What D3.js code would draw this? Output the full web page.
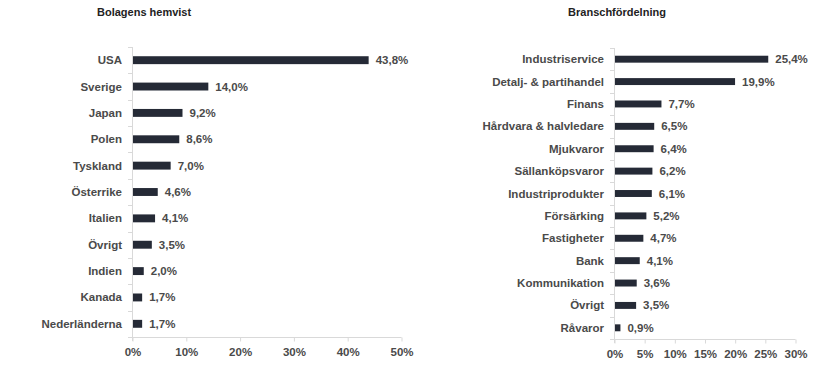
<!DOCTYPE html>
<html><head><meta charset="utf-8">
<script src="https://cdn.jsdelivr.net/npm/d3@7"></script>
<style>
body{margin:0;background:#fff;}
text{font-family:"Liberation Sans",Arial,sans-serif;font-weight:bold;}
</style></head>
<body>
<svg id="c" width="830" height="365"></svg>
<script>
const leftTitle = "Bolagens hemvist";
const leftCategories = ["USA","Sverige","Japan","Polen","Tyskland","Österrike","Italien","Övrigt","Indien","Kanada","Nederländerna"];
const leftValues = [43.8,14.0,9.2,8.6,7.0,4.6,4.1,3.5,2.0,1.7,1.7];
const leftTicks = [0,10,20,30,40,50];

const rightTitle = "Branschfördelning";
const rightCategories = ["Industriservice","Detalj- & partihandel","Finans","Hårdvara & halvledare","Mjukvaror","Sällanköpsvaror","Industriprodukter","Försärking","Fastigheter","Bank","Kommunikation","Övrigt","Råvaror"];
const rightValues = [25.4,19.9,7.7,6.5,6.4,6.2,6.1,5.2,4.7,4.1,3.6,3.5,0.9];
const rightTicks = [0,5,10,15,20,25,30];

const svg = d3.select("#c");
const fmt = v => v.toFixed(1).replace(".", ",") + "%";
const barColor = "#252a36", textColor = "#4a4a4a", axisColor = "#d9d9d9";

function drawChart(cfg){
  const g = svg.append("g");
  const x = d3.scaleLinear().domain([0, d3.max(cfg.ticks)]).range([cfg.x0, cfg.x1]);
  const y = d3.scaleBand().domain(cfg.cats).range([cfg.y0, cfg.y1]).paddingInner(cfg.pad).paddingOuter(cfg.pad/2);
  const step = y.step();
  // title
  g.append("text").attr("x", cfg.tx).attr("y", cfg.ty).attr("text-anchor", cfg.tanchor)
    .attr("font-size", 11).attr("fill", "#222").text(cfg.title);
  // y axis line
  g.append("line").attr("x1", cfg.x0+0.5).attr("x2", cfg.x0+0.5).attr("y1", cfg.y0).attr("y2", cfg.y1+4)
    .attr("stroke", axisColor);
  // category separator ticks
  d3.range(cfg.cats.length+1).forEach(i=>{
    const yy = Math.round(cfg.y0 + i*step)+0.5;
    g.append("line").attr("x1", cfg.x0-4).attr("x2", cfg.x0).attr("y1", yy).attr("y2", yy).attr("stroke", axisColor);
  });
  // x axis
  const xa = g.append("g").attr("transform", `translate(0.5,${cfg.y1+0.5})`)
    .call(d3.axisBottom(x).tickValues(cfg.ticks).tickFormat(d=>d+"%").tickSize(4).tickPadding(6));
  xa.select(".domain").attr("stroke", axisColor).attr("d", `M${cfg.x0},0H${cfg.x1}`);
  xa.selectAll(".tick line").attr("stroke", axisColor);
  xa.selectAll(".tick text").attr("font-size", 11.5).attr("fill", textColor)
    .style("font-family","'Liberation Sans',Arial,sans-serif").style("font-weight","bold");
  // bars
  g.selectAll("rect.bar").data(cfg.cats).enter().append("rect")
    .attr("x", x(0)+1).attr("y", d=>y(d)).attr("height", y.bandwidth())
    .attr("width", (d,i)=>x(cfg.vals[i])-x(0)).attr("fill", barColor);
  // category labels
  g.selectAll("text.cat").data(cfg.cats).enter().append("text")
    .attr("x", cfg.x0-10).attr("y", d=>y(d)+y.bandwidth()/2).attr("dy","0.35em")
    .attr("text-anchor","end").attr("font-size", 11.5).attr("fill", textColor).text(d=>d);
  // value labels
  g.selectAll("text.val").data(cfg.vals).enter().append("text")
    .attr("x", d=>x(d)+8).attr("y", (d,i)=>y(cfg.cats[i])+y.bandwidth()/2).attr("dy","0.35em")
    .attr("font-size", 11.5).attr("fill", textColor).text(d=>fmt(d));
}

drawChart({title:leftTitle, cats:leftCategories, vals:leftValues, ticks:leftTicks,
  x0:132, x1:401, y0:47, y1:337, pad:0.7, tx:97, ty:16, tanchor:"start"});
drawChart({title:rightTitle, cats:rightCategories, vals:rightValues, ticks:rightTicks,
  x0:614, x1:795, y0:48, y1:339, pad:0.69, tx:617, ty:16, tanchor:"middle"});
</script>
</body></html>
